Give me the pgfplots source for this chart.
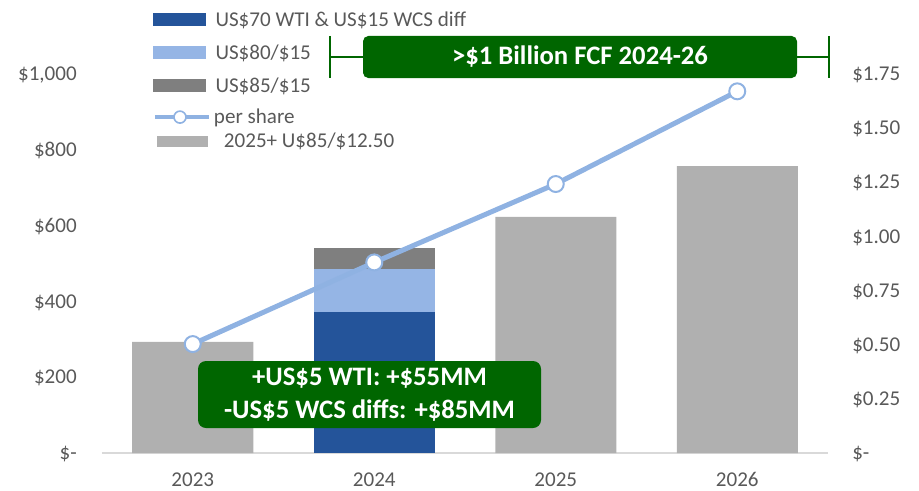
\documentclass[border=0pt]{standalone}
\usepackage{fontspec}
\setmainfont{Carlito}
\usepackage{pgfplots}
\pgfplotsset{compat=1.18}

\definecolor{dkblue}{RGB}{36,84,154}
\definecolor{ltblue}{RGB}{149,181,229}
\definecolor{dkgray}{RGB}{127,127,127}
\definecolor{ltgray}{RGB}{176,176,176}
\definecolor{perblue}{RGB}{143,178,226}
\definecolor{fcfgreen}{RGB}{0,102,0}
\definecolor{textgray}{RGB}{89,89,89}
\definecolor{axisgray}{RGB}{217,217,217}

\newcommand{\lblfont}{\fontsize{15.8}{18}\selectfont}
\newcommand{\boxfont}{\fontsize{20}{24.75}\selectfont\bfseries}

\pgfplotsset{
  fcfbase/.style={
    scale only axis,
    width=544.5pt, height=284.25pt,
    xmin=-0.5, xmax=3.5,
    ymin=0,
    at={(0,0)}, anchor=south west,
    major tick length=0pt,
    ticklabel style={font=\lblfont, text=textgray, inner sep=0pt,
                     text height=10pt, text depth=0pt},
    legend cell align=left,
    legend style={draw=none, fill=none, inner sep=0pt, outer sep=0pt,
                  column sep=7.5pt, font=\lblfont, text=textgray,
                  nodes={inner sep=0pt, text height=10pt, text depth=0pt}},
  },
}

\begin{document}
\begin{tikzpicture}

% free cash flow, $MM (left axis)
\begin{axis}[
    fcfbase,
    ymax=1000,
    axis x line*=bottom,
    axis y line*=left,
    x axis line style={draw=axisgray, line width=1.1pt, -},
    y axis line style={draw=none},
    xtick={0,1,2,3},
    xticklabels={2023,2024,2025,2026},
    xticklabel style={yshift=-15pt},
    ytick={0,200,400,600,800,1000},
    yticklabels={\$-,\$200,\$400,\$600,\$800,{\$1,000}},
    yticklabel style={xshift=-18.75pt},
    legend style={at={(0.0702,1.1615)}, anchor=north west, row sep=14.75pt},
]
\addplot[ybar, bar width=90.75pt, bar shift=0pt, fill=ltgray, draw=none, forget plot]
  coordinates {(0,293) (2,623) (3,757)};
\addplot[ybar, bar width=90.75pt, bar shift=0pt, fill=dkgray, draw=none, forget plot]
  coordinates {(1,541)};
\addplot[ybar, bar width=90.75pt, bar shift=0pt, fill=ltblue, draw=none, forget plot]
  coordinates {(1,485)};
\addplot[ybar, bar width=90.75pt, bar shift=0pt, fill=dkblue, draw=none, forget plot]
  coordinates {(1,372)};

\addlegendimage{legend image code/.code={\fill[dkblue] (0pt,-4.5pt) rectangle (39pt,4.5pt);}}
\addlegendentry{US\$70 WTI \& US\$15 WCS diff}
\addlegendimage{legend image code/.code={\fill[ltblue] (0pt,-4.5pt) rectangle (39pt,4.5pt);}}
\addlegendentry{US\$80/\$15}
\addlegendimage{legend image code/.code={\fill[dkgray] (0pt,-4.5pt) rectangle (39pt,4.5pt);}}
\addlegendentry{US\$85/\$15}
\end{axis}

% per share (right axis)
\begin{axis}[
    fcfbase,
    ymax=1.75,
    hide x axis,
    axis y line*=right,
    y axis line style={draw=none},
    ytick={0,0.25,0.5,0.75,1,1.25,1.5,1.75},
    yticklabels={\$-,\$0.25,\$0.50,\$0.75,\$1.00,\$1.25,\$1.50,\$1.75},
    yticklabel style={xshift=18pt},
    legend style={at={(0.0702,0.9042)}, anchor=north west, row sep=8pt},
]
\addplot[perblue, line width=3.75pt, mark=*, mark size=6pt,
         mark options={fill=white, draw=perblue, line width=1.5pt},
         legend image code/.code={
           \draw[perblue, line width=3pt] (0pt,0pt) -- (40.5pt,0pt);
           \draw[perblue, fill=white, line width=1.2pt] (18.75pt,0pt) circle (4.5pt);}]
  coordinates {(0,0.503) (1,0.880) (2,1.242) (3,1.670)};
\addlegendentry{\hspace{-5.25pt}per share}
\addlegendimage{legend image code/.code={\fill[ltgray] (1.5pt,-3.75pt) rectangle (39pt,3.75pt);}}
\addlegendentry{\hspace{2.25pt}2025+ U\$85/\$12.50}
\end{axis}

% annotations, in pixel coordinates of the 919x490 picture
\begin{scope}[x=0.75pt, y=-0.75pt, shift={(-76.5pt,339.75pt)}]
  \draw[fcfgreen, line width=1.5pt] (330,57) -- (829,57);
  \draw[fcfgreen, line width=1.5pt] (330,36) -- (330,78);
  \draw[fcfgreen, line width=1.5pt] (829,36) -- (829,78);
  \node[fill=fcfgreen, text=white, rounded corners=4pt, font=\boxfont,
        minimum width=325.5pt, minimum height=31.5pt, inner sep=0pt]
    at (580,57) {>\$1 Billion FCF 2024-26};
  \node[fill=fcfgreen, text=white, rounded corners=6pt, font=\boxfont,
        minimum width=257.25pt, minimum height=50.25pt, inner sep=0pt, align=center]
    at (369.5,394.5) {+US\$5 WTI: +\$55MM\\-US\$5 WCS diffs: +\$85MM};
  \pgfresetboundingbox
  \path (0,0) rectangle (919,490);
\end{scope}

\end{tikzpicture}
\end{document}
